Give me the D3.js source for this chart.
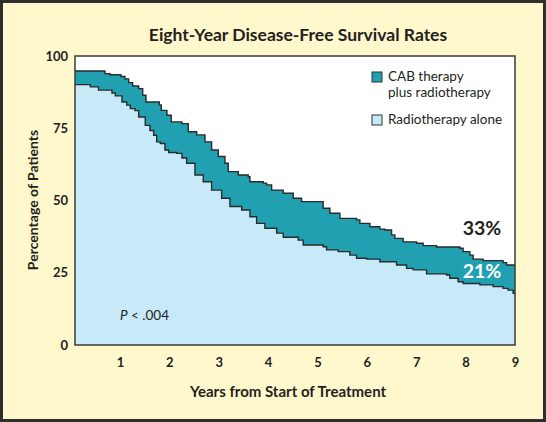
<!DOCTYPE html>
<html><head><meta charset="utf-8">
<script src="https://cdn.jsdelivr.net/npm/d3@7"></script>
<style>
html,body{margin:0;padding:0;background:#fff;}
svg{display:block;font-family:Lato,"Open Sans",sans-serif;}
</style></head>
<body>
<svg id="chart" width="546" height="422"></svg>
<script>
// ---- data ----
const cabYears = [0, 0.696, 0.798, 1.020, 1.101, 1.176, 1.257, 1.379, 1.460, 1.526, 1.796, 1.836, 1.951, 2.038, 2.255, 2.383, 2.553, 2.721, 2.856, 2.990, 3.126, 3.192, 3.395, 3.597, 3.632, 3.901, 3.970, 4.071, 4.306, 4.508, 4.678, 5.115, 5.251, 5.453, 5.791, 5.858, 6.061, 6.263, 6.364, 6.500, 6.567, 6.735, 7.006, 7.140, 7.411, 7.883, 7.949, 8.085, 8.152, 8.354, 8.759, 8.828, 9.0];
const cabValues = [94.8, 93.9, 93.5, 92.9, 92.1, 90.8, 89.6, 88.7, 86.4, 84.1, 83.1, 81.2, 79.5, 77.2, 76.6, 73.8, 72.7, 70.3, 67.5, 65.2, 62.9, 60.0, 58.8, 58.2, 56.5, 56.0, 55.4, 53.6, 52.5, 50.8, 49.6, 47.3, 45.6, 43.8, 43.3, 42.1, 40.9, 40.1, 39.8, 38.1, 36.9, 35.7, 35.2, 34.4, 33.9, 33.5, 32.3, 31.1, 29.7, 29.2, 28.5, 27.7, 27.7];
const radYears = [0, 0.399, 0.565, 0.838, 0.905, 1.040, 1.136, 1.209, 1.304, 1.379, 1.512, 1.607, 1.682, 1.743, 1.816, 1.911, 1.986, 2.148, 2.255, 2.350, 2.518, 2.686, 2.856, 3.059, 3.227, 3.464, 3.632, 3.767, 3.935, 4.172, 4.306, 4.609, 4.711, 5.115, 5.184, 5.419, 5.656, 5.791, 5.994, 6.263, 6.601, 6.804, 6.937, 7.209, 7.613, 7.680, 7.848, 7.949, 8.287, 8.557, 8.759, 8.860, 8.962, 9.0];
const radValues = [90.1, 89.3, 88.2, 87.2, 86.2, 84.1, 83.0, 81.8, 81.1, 78.9, 76.0, 74.2, 72.6, 70.3, 69.7, 67.5, 66.6, 66.3, 64.7, 62.9, 58.8, 56.5, 53.6, 50.8, 47.9, 46.7, 44.4, 42.1, 40.4, 38.7, 37.3, 36.3, 34.6, 34.0, 32.9, 32.3, 31.1, 30.0, 29.7, 28.8, 27.7, 26.5, 26.0, 24.6, 24.2, 23.1, 21.9, 21.3, 20.8, 20.2, 19.6, 19.0, 17.9, 17.9];
const xTicks = [1, 2, 3, 4, 5, 6, 7, 8, 9];
const yTicks = [0, 25, 50, 75, 100];
const seriesNames = ["CAB therapy|plus radiotherapy", "Radiotherapy alone"];
const seriesColors = ["#21a0b1", "#c8e9f8"];
const endLabels = ["33%", "21%"];
const titleText = "Eight-Year Disease-Free Survival Rates";
const xTitle = "Years from Start of Treatment";
const yTitle = "Percentage of Patients";

// ---- drawing ----
const svg = d3.select("#chart");
const W = 546, H = 422;
const plotL = 75, plotR = 515, plotT = 56, plotB = 345;

svg.append("rect").attr("x", 1.5).attr("y", 1.5).attr("width", W - 3).attr("height", H - 3)
  .attr("fill", "#fff8cd").attr("stroke", "#2e2e2e").attr("stroke-width", 3);

const x = d3.scaleLinear().domain([0, 9]).range([70.6, plotR]);
const y = d3.scaleLinear().domain([0, 100]).range([plotB, plotT]);

svg.append("text").attr("x", 298).attr("y", 41).attr("text-anchor", "middle")
  .attr("font-size", 17.5).attr("font-weight", "bold").attr("fill", "#231f20").text(titleText);

svg.append("clipPath").attr("id", "clip").append("rect")
  .attr("x", plotL).attr("y", plotT).attr("width", plotR - plotL).attr("height", plotB - plotT);

svg.append("rect").attr("x", plotL).attr("y", plotT).attr("width", plotR - plotL).attr("height", plotB - plotT)
  .attr("fill", "#ffffff");

const g = svg.append("g").attr("clip-path", "url(#clip)");
const cab = cabYears.map((t, i) => ({t, v: cabValues[i]}));
const rad = radYears.map((t, i) => ({t, v: radValues[i]}));

const area = d3.area().x(d => x(d.t)).y0(y(0)).y1(d => y(d.v)).curve(d3.curveStepAfter);
const line = d3.line().x(d => x(d.t)).y(d => y(d.v)).curve(d3.curveStepAfter);

g.append("path").datum(cab).attr("d", area).attr("fill", seriesColors[0]);
g.append("path").datum(rad).attr("d", area).attr("fill", seriesColors[1]);
g.append("path").datum(cab).attr("d", line).attr("fill", "none").attr("stroke", "#2a2a2a").attr("stroke-width", 1.4);
g.append("path").datum(rad).attr("d", line).attr("fill", "none").attr("stroke", "#2a2a2a").attr("stroke-width", 1.4);

svg.append("rect").attr("x", plotL).attr("y", plotT).attr("width", plotR - plotL).attr("height", plotB - plotT)
  .attr("fill", "none").attr("stroke", "#3a3a3a").attr("stroke-width", 1.5);

// axes
const xAxis = svg.append("g").attr("transform", `translate(0,${plotB})`)
  .call(d3.axisBottom(x).tickValues(xTicks).tickSize(0).tickPadding(13));
const yAxis = svg.append("g").attr("transform", `translate(${plotL},0)`)
  .call(d3.axisLeft(y).tickValues(yTicks).tickSize(0).tickPadding(7));
[xAxis, yAxis].forEach(a => {
  a.select(".domain").remove();
  a.selectAll("text").attr("font-size", 13).attr("font-weight", "bold").attr("fill", "#231f20")
    .attr("font-family", "Lato, sans-serif");
});

svg.append("text").attr("x", 288).attr("y", 397).attr("text-anchor", "middle")
  .attr("font-size", 15).attr("font-weight", "bold").attr("fill", "#231f20").text(xTitle);
svg.append("text").attr("transform", "translate(38,200) rotate(-90)").attr("text-anchor", "middle")
  .attr("font-size", 14).attr("font-weight", "bold").attr("fill", "#231f20").text(yTitle);

// legend
const lg = svg.append("g");
[[72, 0], [115, 1]].forEach(([ly, i]) => {
  lg.append("rect").attr("x", 372).attr("y", ly).attr("width", 10).attr("height", 10)
    .attr("fill", seriesColors[i]).attr("stroke", "#333").attr("stroke-width", 1);
  const parts = seriesNames[i].split("|");
  parts.forEach((p, j) => {
    lg.append("text").attr("x", 388).attr("y", ly + 9 + j * 16).attr("font-size", 13.5)
      .attr("fill", "#231f20").text(p);
  });
});

// annotations
svg.append("text").attr("x", 482).attr("y", 235).attr("text-anchor", "middle")
  .attr("font-size", 19.5).attr("font-weight", "bold").attr("fill", "#231f20").text(endLabels[0]);
svg.append("text").attr("x", 482).attr("y", 278).attr("text-anchor", "middle")
  .attr("font-size", 19.5).attr("font-weight", "bold").attr("fill", "#ffffff").text(endLabels[1]);

const pt = svg.append("text").attr("x", 120).attr("y", 320).attr("font-size", 13.5).attr("fill", "#231f20");
pt.append("tspan").attr("font-style", "italic").text("P");
pt.append("tspan").text(" < .004");
</script>
</body></html>
